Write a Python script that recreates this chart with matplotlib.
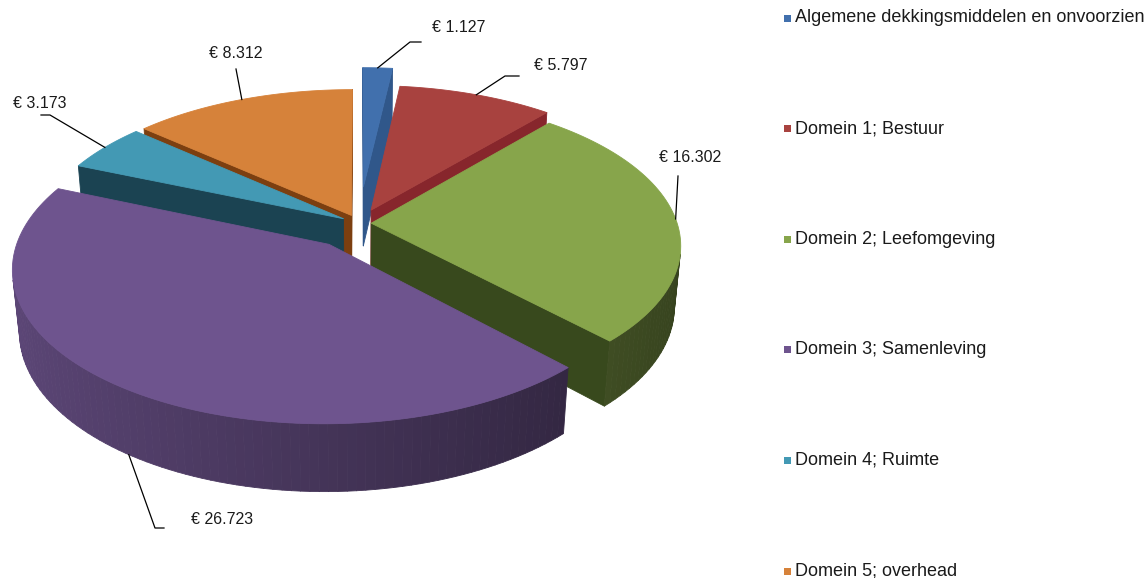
"""Exploded 3D pie of the municipal budget per domain (Excel-style), drawn as
projected polygons so the slices get a thickness and a perspective tilt."""

import numpy as np
import matplotlib

matplotlib.use("Agg")
from matplotlib import pyplot as plt
from matplotlib.patches import Polygon

categories = [
    "Algemene dekkingsmiddelen en onvoorzien",
    "Domein 1; Bestuur",
    "Domein 2; Leefomgeving",
    "Domein 3; Samenleving",
    "Domein 4; Ruimte",
    "Domein 5; overhead",
]
values = [1127, 5797, 16302, 26723, 3173, 8312]
value_labels = ["€ 1.127", "€ 5.797", "€ 16.302", "€ 26.723", "€ 3.173", "€ 8.312"]
explode = [0.26, 0.10, 0.04, 0.17, 0.06, 0.06]

top_colors = ["#4170AD", "#A8423F", "#87A54B", "#6E548E", "#4399B4", "#D6823A"]
cut_colors = ["#30578A", "#87262C", "#38491D", "#3E2E55", "#1B4352", "#7C3F10"]

# label layout in pixels: leader elbow, end of the short tail, text centre
label_elbow = [(410, 42), (505, 76), (678, 176), (155, 528), (50, 115), (236, 69)]
label_tail = [(421, 42), (519, 76), (678, 176), (164, 528), (41, 115), (236, 69)]
label_text = [(459, 27), (561, 65), (690, 157), (222, 519), (40, 103), (236, 53)]
label_on_bottom = [False, False, False, True, False, False]

_W, _H = 1144, 578
_CX, _CY = 359, 284
_FOCAL = 1800
_DIST = 6.0
_TILT = np.radians(30.5)
_THICK = 0.23
_CAM = np.array([0.0, _DIST * np.sin(_TILT), _DIST * np.cos(_TILT)])
_FONT = ["Liberation Sans", "DejaVu Sans"]


def _proj(x, y, z):
    s, c = np.sin(_TILT), np.cos(_TILT)
    depth = _DIST - y * s - z * c
    return _CX + _FOCAL * x / depth, _CY - _FOCAL * (y * c - z * s) / depth


def _dir(theta):
    # clockwise from 12 o'clock, +z points at the viewer
    return np.sin(theta), -np.cos(theta)


def _visible(point, theta):
    nx, nz = _dir(theta)
    d = np.asarray(point) - _CAM
    return d[0] * nx + d[2] * nz < 0


def _shade(color, k):
    rgb = np.array(matplotlib.colors.to_rgb(color)) * k
    return tuple(np.clip(rgb, 0, 1))


def _poly(ax, pts, color):
    xs, ys = _proj(*np.array(pts).T)
    ax.add_patch(Polygon(np.column_stack([xs, ys]), closed=True, facecolor=color,
                         edgecolor=color, linewidth=0.6, joinstyle="round"))


fig = plt.figure(figsize=(_W / 100, _H / 100), dpi=100)
ax = fig.add_axes([0, 0, 1, 1])
ax.set_xlim(0, _W)
ax.set_ylim(_H, 0)
ax.axis("off")

fracs = np.array(values) / np.sum(values)
edges = np.concatenate([[0.0], np.cumsum(fracs)]) * 2 * np.pi

slices = []
for i in range(len(values)):
    t0, t1 = edges[i], edges[i + 1]
    mid = (t0 + t1) / 2
    ox, oz = np.array(_dir(mid)) * explode[i]
    cz = _dir(mid)[1] * 0.5
    depth = _DIST - _THICK / 2 * np.sin(_TILT) - (oz + cz) * np.cos(_TILT)
    slices.append((depth, i, t0, t1, mid, ox, oz))

for depth, i, t0, t1, mid, ox, oz in sorted(slices, reverse=True):
    n = max(3, int(np.degrees(t1 - t0) / 1.5) + 2)
    ts = np.linspace(t0, t1, n)
    rx = ox + np.sin(ts)
    rz = oz - np.cos(ts)

    # radial cut faces
    for t, normal in ((t0, t0 - np.pi / 2), (t1, t1 + np.pi / 2)):
        ex, ez = ox + np.sin(t), oz - np.cos(t)
        centre = ((ox + ex) / 2, _THICK / 2, (oz + ez) / 2)
        if _visible(centre, normal):
            _poly(ax, [(ox, 0, oz), (ox, _THICK, oz), (ex, _THICK, ez), (ex, 0, ez)], cut_colors[i])

    # outer wall, lit from the left
    for j in range(n - 1):
        tm = (ts[j] + ts[j + 1]) / 2
        centre = (ox + np.sin(tm), _THICK / 2, oz - np.cos(tm))
        if _visible(centre, tm):
            k = 0.62 - 0.22 * np.sin(tm)
            _poly(ax, [(rx[j], 0, rz[j]), (rx[j + 1], 0, rz[j + 1]),
                       (rx[j + 1], _THICK, rz[j + 1]), (rx[j], _THICK, rz[j])],
                  _shade(top_colors[i], k))

    # top face
    top = [(ox, _THICK, oz)] + [(x, _THICK, z) for x, z in zip(rx, rz)]
    _poly(ax, top, top_colors[i])

# data labels with leader lines
for i in range(len(values)):
    mid = (edges[i] + edges[i + 1]) / 2
    ox, oz = np.array(_dir(mid)) * explode[i]
    y = 0.0 if label_on_bottom[i] else _THICK
    px, py = _proj(ox + np.sin(mid), y, oz - np.cos(mid))
    ex, ey = label_elbow[i]
    tx, ty = label_tail[i]
    ax.plot([px, ex, tx], [py, ey, ty], color="black", linewidth=0.9)
    ax.text(*label_text[i], value_labels[i], ha="center", va="center",
            fontsize=11.5, family=_FONT, color="#1a1a1a")

# legend
legend_y = np.linspace(18, 571, len(categories))
for i, (name, y) in enumerate(zip(categories, legend_y)):
    ax.add_patch(Polygon([(784, y - 3.5), (791, y - 3.5), (791, y + 3.5), (784, y + 3.5)],
                         closed=True, facecolor=top_colors[i], edgecolor="none"))
    ax.text(795, y, name, ha="left", va="center", fontsize=13, family=_FONT, color="#1a1a1a")

fig.savefig("out.png", dpi=100)
